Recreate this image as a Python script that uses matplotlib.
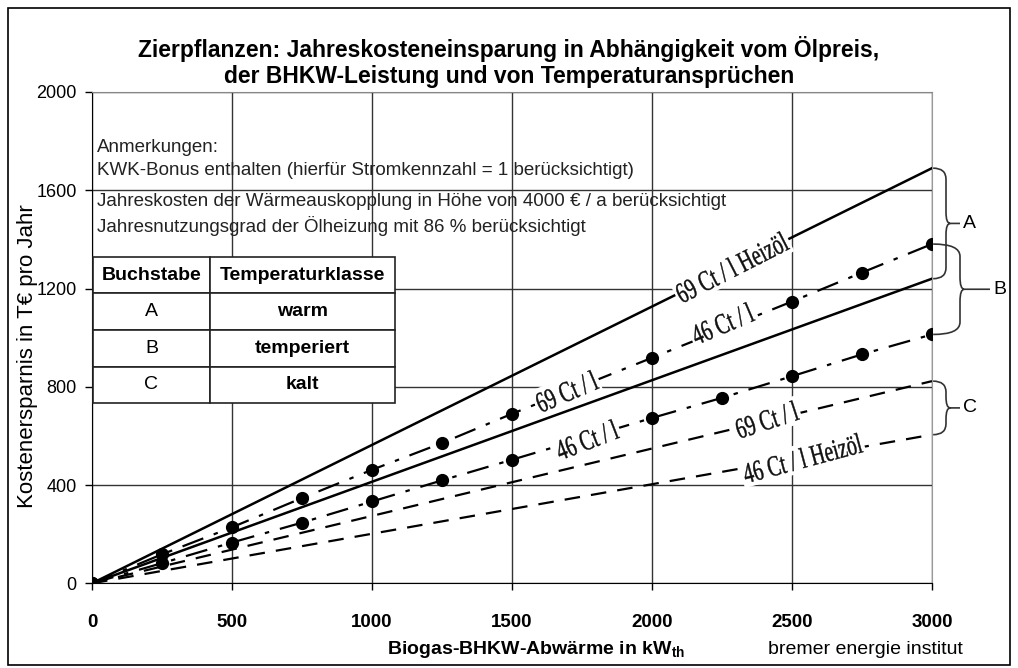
import matplotlib
matplotlib.use('Agg')
import matplotlib.pyplot as plt
import matplotlib.transforms as mtransforms
from matplotlib.path import Path
from matplotlib.patches import PathPatch, Rectangle
from matplotlib.textpath import TextPath
from matplotlib.font_manager import FontProperties

plt.rcParams['font.family'] = ['Liberation Sans', 'DejaVu Sans']
plt.rcParams['mathtext.fontset'] = 'custom'
plt.rcParams['mathtext.rm'] = 'Liberation Sans'
plt.rcParams['mathtext.bf'] = 'Liberation Sans:bold'

# --- data ---
line_x = [0, 3000]
a_69 = [0, 1690]          # warm, 69 Ct/l
a_46 = [0, 1240]          # warm, 46 Ct/l
c_69 = [0, 823]           # kalt, 69 Ct/l
c_46 = [0, 605]           # kalt, 46 Ct/l

b_69_x = [0, 250, 500, 750, 1000, 1250, 1500, 2000, 2500, 2750, 3000]
b_69_y = [0, 118, 228, 347, 462, 571, 690, 918, 1147, 1265, 1381]
b_46_x = [0, 250, 500, 750, 1000, 1250, 1500, 2000, 2250, 2500, 2750, 3000]
b_46_y = [0, 82, 166, 247, 333, 419, 503, 673, 755, 843, 932, 1013]

# label text, x, y, rotation
line_labels = [
    ("69 Ct / l Heizöl", 2285, 1287, 27),
    ("46 Ct / l", 2251, 1058, 23),
    ("69 Ct / l", 1695, 782, 23),
    ("46 Ct / l", 1767, 585, 21),
    ("69 Ct / l", 2410, 667, 18),
    ("46 Ct / l Heizöl", 2537, 510, 15),
]

notes = [
    "Anmerkungen:",
    "KWK-Bonus enthalten (hierfür Stromkennzahl = 1 berücksichtigt)",
    "Jahreskosten der Wärmeauskopplung in Höhe von 4000 € / a berücksichtigt",
    "Jahresnutzungsgrad der Ölheizung mit 86 % berücksichtigt",
]
table_header = ["Buchstabe", "Temperaturklasse"]
table_rows = [["A", "warm"], ["B", "temperiert"], ["C", "kalt"]]

W, H = 1018, 668
DPI = 100
fig = plt.figure(figsize=(W / DPI, H / DPI), dpi=DPI)
ax = fig.add_axes([92 / W, 1 - 583.3 / H, 840 / W, 491.3 / H])

# outer frame of the whole picture
fig.patches.append(Rectangle((8 / W, 3 / H), 1002 / W, 657 / H, transform=fig.transFigure,
                             fill=False, edgecolor='black', linewidth=1.2))

ax.plot(line_x, a_69, color='black', lw=1.8, zorder=3)
ax.plot(line_x, a_46, color='black', lw=1.8, zorder=3)
ax.plot(b_69_x, b_69_y, color='black', lw=1.6, dashes=(10, 5, 2, 5),
        marker='o', markersize=8.5, zorder=3)
ax.plot(b_46_x, b_46_y, color='black', lw=1.6, dashes=(10, 5, 2, 5),
        marker='o', markersize=8.5, zorder=3)
ax.plot(line_x, c_69, color='black', lw=1.6, dashes=(7, 5), zorder=3)
ax.plot(line_x, c_46, color='black', lw=1.6, dashes=(7, 5), zorder=3)

# line labels: condensed-looking serif text (stretched vertically), white gap behind
serif = FontProperties(family='Liberation Serif')
for txt, lx, ly, rot in line_labels:
    tp = TextPath((0, 0), txt, size=15, prop=serif)
    ext = tp.get_extents()
    k = DPI / 72.0
    tr = (mtransforms.Affine2D()
          .translate(-(ext.x0 + ext.x1) / 2, -(ext.y0 + ext.y1) / 2)
          .scale(0.95 * k, 1.4 * k)
          .rotate_deg(rot)
          + mtransforms.ScaledTranslation(lx, ly, ax.transData))
    pad = 2
    ax.add_patch(Rectangle((ext.x0 - pad, ext.y0 - pad), ext.width + 2 * pad, ext.height + 2 * pad,
                           transform=tr, facecolor='white', edgecolor='none', zorder=5))
    ax.add_patch(PathPatch(tp, transform=tr, facecolor='#111111', edgecolor='#111111',
                           lw=0.3, zorder=6))

ax.set_xlim(0, 3000)
ax.set_ylim(0, 2000)
ax.set_xticks(range(0, 3001, 500))
ax.set_yticks(range(0, 2001, 400))
ax.grid(True, color='#333333', lw=1.0, zorder=0)
ax.set_axisbelow(True)
ax.tick_params(direction='out', length=5, width=1, labelsize=13.5)
ax.tick_params(axis='y', labelsize=13, pad=6)
for lab in ax.get_xticklabels():
    lab.set_fontweight('bold')
ax.tick_params(axis='x', pad=17)
ax.spines['left'].set_color('black')
ax.spines['bottom'].set_color('black')
ax.spines['top'].set_color('#888888')
ax.spines['right'].set_color('#999999')

# notes
for note, py in zip(notes, [147, 170, 202, 226]):
    ax.text(5 / 840, (583.3 - py) / 491.3, note, transform=ax.transAxes, fontsize=13.5,
            color='#222222', ha='left', va='center', zorder=4)

# table
tab = ax.table(cellText=table_rows, colLabels=table_header, cellLoc='center',
               colWidths=[0.387, 0.613], bbox=[1 / 840, 0.3664, 302 / 840, 0.2984], zorder=7)
tab.auto_set_font_size(False)
for (r, c), cell in tab.get_celld().items():
    cell.set_edgecolor('#222222')
    cell.set_linewidth(1.2)
    cell.set_facecolor('white')
    t = cell.get_text()
    t.set_fontsize(14)
    t.set_fontweight('normal' if (r > 0 and c == 0) else 'bold')


def brace(x0, xs, xt, ytop, ybot, r=45, label=None):
    ymid = (ytop + ybot) / 2
    verts = [(x0, ytop), (xs, ytop), (xs, ytop - r), (xs, ymid + r), (xs, ymid), (xs + 15, ymid), (xt, ymid),
             (x0, ybot), (xs, ybot), (xs, ybot + r), (xs, ymid - r), (xs, ymid), (xs + 15, ymid)]
    codes = [Path.MOVETO, Path.CURVE3, Path.CURVE3, Path.LINETO, Path.CURVE3, Path.CURVE3, Path.LINETO,
             Path.MOVETO, Path.CURVE3, Path.CURVE3, Path.LINETO, Path.CURVE3, Path.CURVE3]
    ax.add_patch(PathPatch(Path(verts, codes), fill=False, edgecolor='#333333', lw=1.2, clip_on=False))
    ax.text(xt + 12, ymid, label, ha='left', va='center', fontsize=14, clip_on=False)


brace(3004, 3050, 3100, a_69[-1], a_46[-1], label='A')
brace(3004, 3100, 3207, b_69_y[-1], b_46_y[-1], r=50, label='B')
brace(3004, 3050, 3100, c_69[-1], c_46[-1], label='C')

fig.text(509 / W, 1 - 62 / H,
         "Zierpflanzen: Jahreskosteneinsparung in Abhängigkeit vom Ölpreis,\n"
         "der BHKW-Leistung und von Temperaturansprüchen",
         ha='center', va='center', fontsize=16.5, fontweight='bold', linespacing=1.15)
fig.text(536 / W, 1 - 650 / H, r"Biogas-BHKW-Abwärme in kW$_{\mathbf{th}}$",
         ha='center', va='center', fontsize=14, fontweight='bold')
fig.text(865 / W, 1 - 650 / H, "bremer energie institut", ha='center', va='center', fontsize=14)
fig.text(28 / W, 1 - 356 / H, "Kostenersparnis in T€ pro Jahr", rotation=90,
         ha='center', va='center', fontsize=16)

fig.savefig('out.png', dpi=DPI)
